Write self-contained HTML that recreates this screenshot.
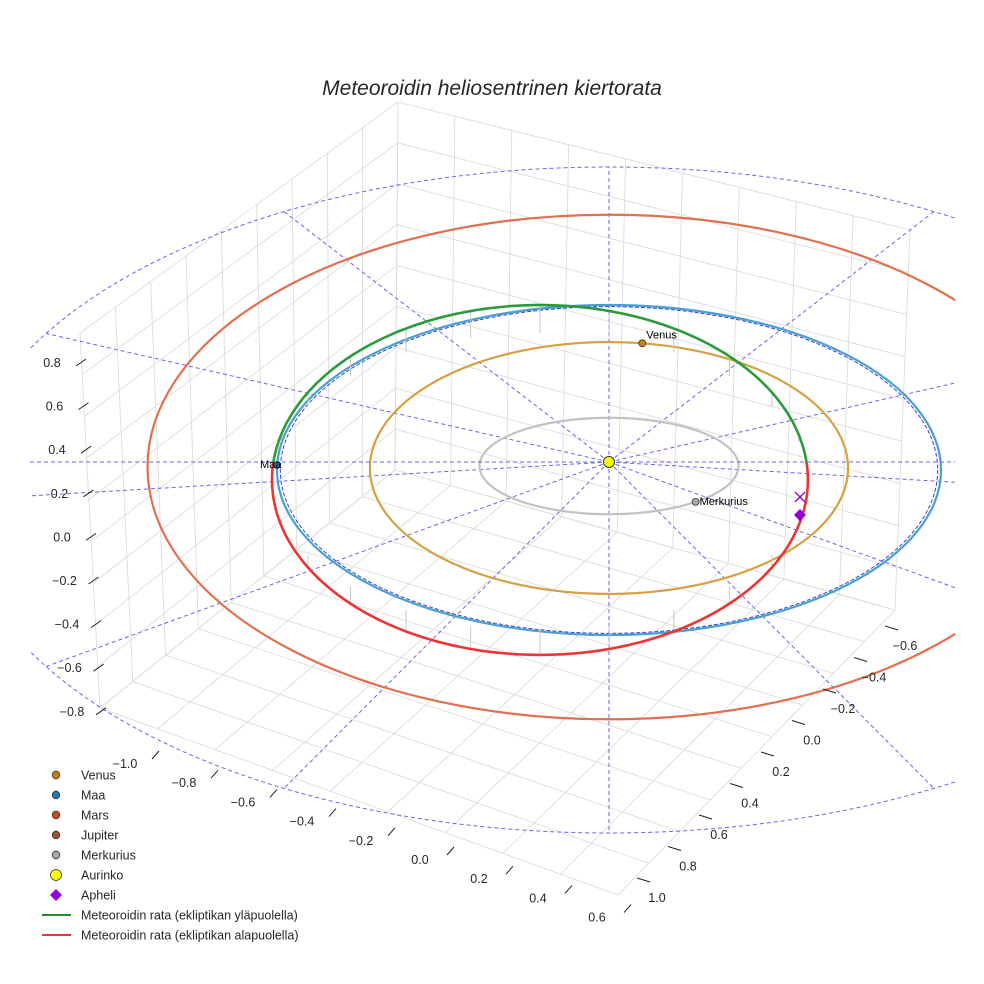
<!DOCTYPE html>
<html><head><meta charset="utf-8"><style>
body{margin:0;background:#fff}
svg{display:block;font-family:"Liberation Sans",sans-serif}
</style></head><body>
<svg id="c" width="984" height="984" viewBox="0 0 984 984">
<defs><clipPath id="clip"><rect x="30" y="100" width="925" height="780"/></clipPath></defs>
<text x="492" y="95" text-anchor="middle" font-size="21" font-style="italic" fill="#262626">Meteoroidin heliosentrinen kiertorata</text>
<g id="grid"></g>
<g id="marks" clip-path="url(#clip)"></g>
<g id="labels"></g>
<g id="legend"></g>
</svg>
<script>
// ---- data ----
const planetNames = ["Venus","Maa","Mars","Merkurius"];
const orbitRadii = [0.72, 1.0, 1.39, 0.39];
const orbitColors = ["#d4a040","#4a9fd0","#e07050","#c8c0c0"];
const orbitAspect = [1.06, 1.0, 1.1, 0.75];
const orbitOffsetY = [6, 8, 5, 4];
const planetAngles = [82, 180, 0, -48];
const outerRingRadius = 1.8;
const meteoroidSemiX = 0.807;
const meteoroidSemiY = 1.06;
const meteoroidCenterX = -0.208;
const meteoroidCenterY = -0.109;
const zTicks = ["0.8","0.6","0.4","0.2","0.0","−0.2","−0.4","−0.6","−0.8"];
const xTicks = ["−1.0","−0.8","−0.6","−0.4","−0.2","0.0","0.2","0.4","0.6"];
const yTicks = ["−0.6","−0.4","−0.2","0.0","0.2","0.4","0.6","0.8","1.0"];
const legendNames = ["Venus","Maa","Mars","Jupiter","Merkurius","Aurinko","Apheli","Meteoroidin rata (ekliptikan yläpuolella)","Meteoroidin rata (ekliptikan alapuolella)"];

const NS="http://www.w3.org/2000/svg";
const cx=609, cy=462, ax=332, by=165;
const ringCy=500, ringRx=650/1.8, ringRy=333/1.8;
function px(x){return cx+ax*x;}
function py(y){return cy-by*y;}
function el(tag,attrs,parent){const e=document.createElementNS(NS,tag);for(const k in attrs)e.setAttribute(k,attrs[k]);parent.appendChild(e);return e;}
const grid=document.getElementById('grid'), marks=document.getElementById('marks'), labels=document.getElementById('labels'), legend=document.getElementById('legend');

function lerp(a,b,t){return [a[0]+(b[0]-a[0])*t,a[1]+(b[1]-a[1])*t];}
const At=[80,333],Ab=[100,708],Bt=[398,102],Bb=[395,470],Ct=[910,230],Cb=[895,610],D=[618,895];
function quadGrid(p00,p10,p01,p11,n,m){
  for(let i=0;i<=n;i++){const t=i/n;const a=lerp(p00,p10,t),b=lerp(p01,p11,t);
    const l=el('line',{x1:a[0],y1:a[1],x2:b[0],y2:b[1],stroke:'#dcdcdc','stroke-width':0.9},grid);
    
    }
  for(let j=0;j<=m;j++){const t=j/m;const a=lerp(p00,p01,t),b=lerp(p10,p11,t);
    const l=el('line',{x1:a[0],y1:a[1],x2:b[0],y2:b[1],stroke:'#dcdcdc','stroke-width':0.9},grid);
    
    }
}
quadGrid(At,Bt,Ab,Bb,9,9);
quadGrid(Bt,Ct,Bb,Cb,9,9);
quadGrid(Ab,Bb,D,Cb,9,9);

for(let k=0;k<12;k++){const a=k*Math.PI/6;
  const l=el('line',{x1:cx,y1:cy,x2:cx+ringRx*outerRingRadius*Math.cos(a),y2:ringCy-ringRy*outerRingRadius*Math.sin(a),stroke:'#6666ee','stroke-width':1,'stroke-dasharray':'4,3'},marks);
  
  }
const ring=el('ellipse',{cx:cx,cy:ringCy,rx:ringRx*outerRingRadius,ry:ringRy*outerRingRadius,fill:'none',stroke:'#6666ee','stroke-width':1,'stroke-dasharray':'4,3'},marks);



orbitRadii.forEach((r,i)=>{
  const o=el('ellipse',{cx:cx,cy:cy+orbitOffsetY[i],rx:ax*r,ry:by*r*orbitAspect[i],fill:'none',stroke:orbitColors[i],'stroke-width':2.2},marks);
  
  
});
const ed=el('ellipse',{cx:cx,cy:cy+8,rx:ax*0.99,ry:by*0.99,fill:'none',stroke:'#3344cc','stroke-width':1,'stroke-dasharray':'4,2'},marks);



function mPt(t){return [px(meteoroidCenterX+meteoroidSemiX*Math.cos(t)), py(meteoroidCenterY+meteoroidSemiY*Math.sin(t))];}
function arc(t0,t1){let d='';for(let i=0;i<=160;i++){const t=t0+(t1-t0)*i/160;const p=mPt(t);d+=(i?'L':'M')+p[0].toFixed(1)+','+p[1].toFixed(1);}return d;}
const t0=Math.asin(-meteoroidCenterY/meteoroidSemiY);
for(let k=1;k<24;k++){const t=k*2*Math.PI/24;const p=mPt(t);
  const s=el('line',{x1:p[0],y1:p[1],x2:p[0],y2:p[1]+(Math.sin(t)>0?28:-25)*Math.abs(Math.sin(t)),stroke:'#c8c8c8','stroke-width':1},marks);
  
  }
const up=el('path',{d:arc(t0,Math.PI-t0),fill:'none',stroke:'#2a9a3a','stroke-width':2.6},marks);


const dn=el('path',{d:arc(Math.PI-t0,2*Math.PI+t0),fill:'none',stroke:'#ee3333','stroke-width':2.6},marks);



const hl=el('line',{x1:30,y1:cy,x2:955,y2:cy,stroke:'#6666ee','stroke-width':1,'stroke-dasharray':'4,3'},marks);



const pcol=["#c8801a","#1f77b4","#d04a1a","#b0a8a8"];
planetNames.forEach((n,i)=>{
  if(n==="Mars")return;
  const a=planetAngles[i]*Math.PI/180,r=orbitRadii[i];
  const x=px(r*Math.cos(a)), y=cy+orbitOffsetY[i]-by*r*orbitAspect[i]*Math.sin(a)+(n==="Maa"?-5:0);
  const c=el('circle',{cx:x,cy:y,r:3.5,fill:pcol[i],stroke:'#333','stroke-width':0.8},marks);
  
  
  const t=el('text',{x:n==="Maa"?x-17:x+4,y:n==="Merkurius"?y+3:(n==="Maa"?y+3:y-5),'font-size':11,fill:'#000'},marks);
  t.textContent=n;
  
  
});
const sun=el('circle',{cx:cx,cy:cy,r:5.5,fill:'#ffff00',stroke:'#333','stroke-width':1},marks);


const ap=el('path',{d:'M800,509 L806,515 L800,521 L794,515Z',fill:'#9400d3'},marks);


const xm=el('path',{d:'M795,492 L805,502 M805,492 L795,502',stroke:'#9400d3','stroke-width':1.3},marks);



zTicks.forEach((s,i)=>{const y=362+i*43.6;const x=52+i*2.5;
  const t=el('text',{x:x,y:y+5,'font-size':12.5,fill:'#262626','text-anchor':'middle'},labels);t.textContent=s;
  
  
  const m=el('line',{x1:x+24,y1:y+4,x2:x+34,y2:y-3,stroke:'#222','stroke-width':1},labels);
  
  });
xTicks.forEach((s,i)=>{const x=125+i*59;const y=768+i*19.2;
  const t=el('text',{x:x,y:y,'font-size':12.5,fill:'#262626','text-anchor':'middle'},labels);t.textContent=s;
  
  
  const m=el('line',{x1:x+27,y1:y-9,x2:x+34,y2:y-17,stroke:'#222','stroke-width':1},labels);
  
  });
yTicks.forEach((s,i)=>{const x=905-i*31;const y=650+i*31.5;
  const t=el('text',{x:x,y:y,'font-size':12.5,fill:'#262626','text-anchor':'middle'},labels);t.textContent=s;
  
  
  const m=el('line',{x1:x-20,y1:y-24,x2:x-7,y2:y-20,stroke:'#222','stroke-width':1},labels);
  
  });

const lcol=["#c8801a","#1f77b4","#d04a1a","#a0522d","#b0a8a8","#ffff00","#9400d3","#2a8a2a","#ee3333"];
legendNames.forEach((n,i)=>{const y=775+i*20;
  if(i<6){const c=el('circle',{cx:56,cy:y,r:i==5?5.5:3.8,fill:lcol[i],stroke:'#333','stroke-width':0.8},legend);
    
    }
  else if(i==6){const c=el('path',{d:`M56,${y-6} L62,${y} L56,${y+6} L50,${y}Z`,fill:lcol[i]},legend);
    
    }
  else{const c=el('line',{x1:42,y1:y,x2:71,y2:y,stroke:lcol[i],'stroke-width':2},legend);
    
    }
  const t=el('text',{x:81,y:y+4.5,'font-size':12.5,fill:'#262626'},legend);t.textContent=n;
  
  
});
</script>
</body></html>
